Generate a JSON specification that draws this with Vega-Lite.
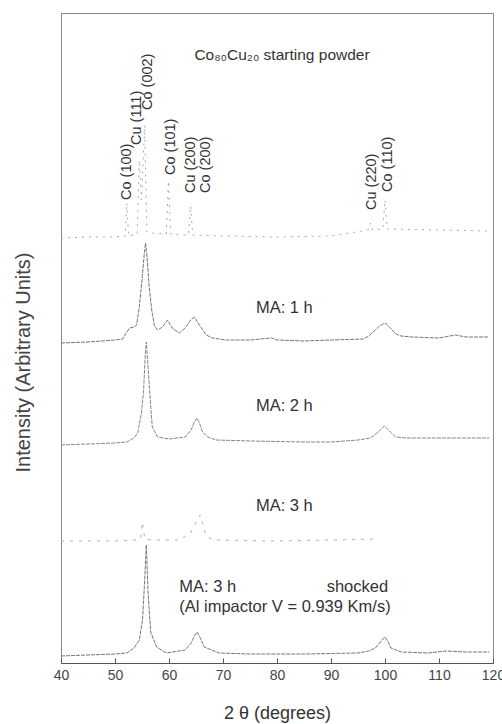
{
  "$schema": "https://vega.github.io/schema/vega-lite/v6.json",
  "width": 432,
  "height": 650,
  "autosize": "none",
  "padding": {"left": 61, "top": 13, "right": 9, "bottom": 61},
  "background": "white",
  "config": {
    "view": {"stroke": "#888", "strokeWidth": 1},
    "font": "Liberation Sans"
  },
  "datasets": {
    "traces": [
      {"s": "start", "x": 40, "y": 425}, {"s": "start", "x": 45, "y": 426}, {"s": "start", "x": 50, "y": 426},
      {"s": "start", "x": 51.9, "y": 427}, {"s": "start", "x": 52.2, "y": 460}, {"s": "start", "x": 52.5, "y": 427},
      {"s": "start", "x": 54.1, "y": 429}, {"s": "start", "x": 54.5, "y": 503}, {"s": "start", "x": 54.9, "y": 463},
      {"s": "start", "x": 55.5, "y": 538}, {"s": "start", "x": 55.9, "y": 431}, {"s": "start", "x": 57, "y": 430},
      {"s": "start", "x": 59.5, "y": 429}, {"s": "start", "x": 59.9, "y": 482}, {"s": "start", "x": 60.3, "y": 429},
      {"s": "start", "x": 63.6, "y": 428}, {"s": "start", "x": 64.0, "y": 457}, {"s": "start", "x": 64.4, "y": 428},
      {"s": "start", "x": 70, "y": 427}, {"s": "start", "x": 80, "y": 426}, {"s": "start", "x": 90, "y": 427},
      {"s": "start", "x": 96.9, "y": 433}, {"s": "start", "x": 97.3, "y": 440}, {"s": "start", "x": 97.7, "y": 433},
      {"s": "start", "x": 99.6, "y": 434}, {"s": "start", "x": 100.0, "y": 463}, {"s": "start", "x": 100.4, "y": 434},
      {"s": "start", "x": 110, "y": 433}, {"s": "start", "x": 119, "y": 432},

      {"s": "1h", "x": 40, "y": 320}, {"s": "1h", "x": 45, "y": 321}, {"s": "1h", "x": 50, "y": 323},
      {"s": "1h", "x": 51.4, "y": 324}, {"s": "1h", "x": 52.2, "y": 331}, {"s": "1h", "x": 52.7, "y": 335},
      {"s": "1h", "x": 53.5, "y": 336}, {"s": "1h", "x": 54.0, "y": 338}, {"s": "1h", "x": 54.5, "y": 356},
      {"s": "1h", "x": 55.0, "y": 383}, {"s": "1h", "x": 55.4, "y": 408}, {"s": "1h", "x": 55.65, "y": 420},
      {"s": "1h", "x": 55.9, "y": 408}, {"s": "1h", "x": 56.3, "y": 378}, {"s": "1h", "x": 56.8, "y": 353},
      {"s": "1h", "x": 57.3, "y": 337}, {"s": "1h", "x": 57.9, "y": 333}, {"s": "1h", "x": 58.8, "y": 336},
      {"s": "1h", "x": 59.7, "y": 343}, {"s": "1h", "x": 60.6, "y": 335}, {"s": "1h", "x": 61.9, "y": 330},
      {"s": "1h", "x": 63.0, "y": 335}, {"s": "1h", "x": 64.0, "y": 343}, {"s": "1h", "x": 64.7, "y": 346},
      {"s": "1h", "x": 65.5, "y": 339}, {"s": "1h", "x": 66.9, "y": 328}, {"s": "1h", "x": 68, "y": 325},
      {"s": "1h", "x": 70.6, "y": 323}, {"s": "1h", "x": 75, "y": 323}, {"s": "1h", "x": 79, "y": 325},
      {"s": "1h", "x": 80, "y": 323}, {"s": "1h", "x": 85, "y": 322}, {"s": "1h", "x": 90, "y": 323},
      {"s": "1h", "x": 96, "y": 324}, {"s": "1h", "x": 97, "y": 327}, {"s": "1h", "x": 98, "y": 332},
      {"s": "1h", "x": 99, "y": 337}, {"s": "1h", "x": 100, "y": 340}, {"s": "1h", "x": 101, "y": 335},
      {"s": "1h", "x": 102, "y": 329}, {"s": "1h", "x": 103, "y": 327}, {"s": "1h", "x": 105, "y": 326},
      {"s": "1h", "x": 110, "y": 325}, {"s": "1h", "x": 113, "y": 328}, {"s": "1h", "x": 115, "y": 326},
      {"s": "1h", "x": 119.3, "y": 326},

      {"s": "2h", "x": 40, "y": 218}, {"s": "2h", "x": 45, "y": 219}, {"s": "2h", "x": 50, "y": 220},
      {"s": "2h", "x": 52.2, "y": 221}, {"s": "2h", "x": 53.5, "y": 225}, {"s": "2h", "x": 54.2, "y": 230},
      {"s": "2h", "x": 54.9, "y": 250}, {"s": "2h", "x": 55.3, "y": 273}, {"s": "2h", "x": 55.6, "y": 308},
      {"s": "2h", "x": 55.8, "y": 321}, {"s": "2h", "x": 56.1, "y": 298}, {"s": "2h", "x": 56.4, "y": 273},
      {"s": "2h", "x": 56.9, "y": 236}, {"s": "2h", "x": 57.9, "y": 226}, {"s": "2h", "x": 60, "y": 224},
      {"s": "2h", "x": 63, "y": 226}, {"s": "2h", "x": 64.1, "y": 233}, {"s": "2h", "x": 64.7, "y": 241},
      {"s": "2h", "x": 65.2, "y": 245}, {"s": "2h", "x": 65.7, "y": 239}, {"s": "2h", "x": 66.2, "y": 231},
      {"s": "2h", "x": 67.2, "y": 226}, {"s": "2h", "x": 68.7, "y": 223}, {"s": "2h", "x": 75, "y": 222},
      {"s": "2h", "x": 85, "y": 221}, {"s": "2h", "x": 90, "y": 221}, {"s": "2h", "x": 95, "y": 223},
      {"s": "2h", "x": 97.3, "y": 225}, {"s": "2h", "x": 98.5, "y": 230}, {"s": "2h", "x": 99.9, "y": 237},
      {"s": "2h", "x": 101, "y": 231}, {"s": "2h", "x": 102, "y": 226}, {"s": "2h", "x": 104, "y": 225},
      {"s": "2h", "x": 110, "y": 225}, {"s": "2h", "x": 119.3, "y": 225},

      {"s": "3h", "x": 40, "y": 122}, {"s": "3h", "x": 50, "y": 122}, {"s": "3h", "x": 54, "y": 123},
      {"s": "3h", "x": 54.7, "y": 124}, {"s": "3h", "x": 55.1, "y": 141}, {"s": "3h", "x": 55.5, "y": 124},
      {"s": "3h", "x": 57, "y": 123}, {"s": "3h", "x": 62, "y": 123}, {"s": "3h", "x": 64, "y": 130},
      {"s": "3h", "x": 65.8, "y": 148}, {"s": "3h", "x": 66.8, "y": 128}, {"s": "3h", "x": 68, "y": 123},
      {"s": "3h", "x": 80, "y": 122}, {"s": "3h", "x": 90, "y": 123}, {"s": "3h", "x": 97.8, "y": 124},

      {"s": "shock", "x": 40, "y": 7}, {"s": "shock", "x": 45, "y": 8}, {"s": "shock", "x": 50, "y": 9},
      {"s": "shock", "x": 52.2, "y": 10}, {"s": "shock", "x": 53.5, "y": 15}, {"s": "shock", "x": 54.5, "y": 23},
      {"s": "shock", "x": 55.1, "y": 43}, {"s": "shock", "x": 55.5, "y": 83}, {"s": "shock", "x": 55.8, "y": 118},
      {"s": "shock", "x": 56.1, "y": 73}, {"s": "shock", "x": 56.6, "y": 31}, {"s": "shock", "x": 57.7, "y": 16},
      {"s": "shock", "x": 59.5, "y": 10}, {"s": "shock", "x": 63, "y": 13}, {"s": "shock", "x": 64.1, "y": 20},
      {"s": "shock", "x": 64.7, "y": 27}, {"s": "shock", "x": 65.2, "y": 31}, {"s": "shock", "x": 65.8, "y": 25},
      {"s": "shock", "x": 66.5, "y": 16}, {"s": "shock", "x": 69.3, "y": 10}, {"s": "shock", "x": 75, "y": 9},
      {"s": "shock", "x": 85, "y": 9}, {"s": "shock", "x": 95, "y": 10}, {"s": "shock", "x": 97, "y": 12},
      {"s": "shock", "x": 98.2, "y": 15}, {"s": "shock", "x": 99.3, "y": 22}, {"s": "shock", "x": 100, "y": 26},
      {"s": "shock", "x": 100.6, "y": 21}, {"s": "shock", "x": 101.1, "y": 15}, {"s": "shock", "x": 103, "y": 11},
      {"s": "shock", "x": 108, "y": 10}, {"s": "shock", "x": 111.3, "y": 12}, {"s": "shock", "x": 115, "y": 11},
      {"s": "shock", "x": 119.3, "y": 11}
    ],
    "peaks": [
      {"x": 52.3, "y": 463, "label": "Co (100)"},
      {"x": 54.0, "y": 518, "label": "Cu (111)"},
      {"x": 56.2, "y": 553, "label": "Co (002)"},
      {"x": 60.4, "y": 488, "label": "Co (101)"},
      {"x": 64.1, "y": 470, "label": "Cu (200)"},
      {"x": 66.9, "y": 470, "label": "Co (200)"},
      {"x": 97.5, "y": 453, "label": "Cu (220)"},
      {"x": 100.6, "y": 471, "label": "Co (110)"}
    ],
    "title": [
      {"x": 64.7, "y": 608, "label": "Co₈₀Cu₂₀ starting powder"}
    ],
    "notes": [
      {"x": 76.1, "y": 355, "label": "MA: 1 h"},
      {"x": 76.1, "y": 257, "label": "MA: 2 h"},
      {"x": 76.1, "y": 157, "label": "MA: 3 h"},
      {"x": 61.9, "y": 76, "label": "MA: 3 h"},
      {"x": 89.2, "y": 76, "label": "shocked"},
      {"x": 61.9, "y": 56, "label": "(Al impactor V = 0.939 Km/s)"}
    ]
  },
  "layer": [
    {
      "data": {"name": "traces"},
      "mark": {"type": "line", "strokeWidth": 1, "clip": true},
      "encoding": {
        "x": {
          "field": "x", "type": "quantitative",
          "scale": {"domain": [40, 120], "nice": false, "zero": false},
          "axis": {
            "values": [40, 50, 60, 70, 80, 90, 100, 110, 120],
            "title": "2 θ  (degrees)",
            "titleFontSize": 18, "titleFontWeight": "normal", "titleColor": "#333",
            "titlePadding": 22,
            "labelFontSize": 14, "labelColor": "#444", "labelPadding": 10,
            "tickSize": -5, "tickColor": "#555", "domainColor": "#555",
            "grid": false, "labelFlush": false
          }
        },
        "y": {
          "field": "y", "type": "quantitative",
          "scale": {"domain": [0, 650], "nice": false, "zero": false},
          "axis": {
            "labels": false, "ticks": false, "domain": false, "grid": false,
            "title": "Intensity (Arbitrary Units)",
            "titleFontSize": 20, "titleFontWeight": "normal", "titleColor": "#444",
            "titleX": -38, "titleY": 349, "titleAngle": -90,
            "titleAlign": "center", "titleBaseline": "middle"
          }
        },
        "color": {
          "field": "s", "type": "nominal", "legend": null,
          "scale": {"domain": ["start", "1h", "2h", "3h", "shock"], "range": ["#aaaaaa", "#777777", "#888888", "#b0b0b0", "#777777"]}
        },
        "strokeDash": {
          "field": "s", "type": "nominal", "legend": null,
          "scale": {"domain": ["start", "1h", "2h", "3h", "shock"], "range": [[2, 5], [4, 1], [4, 1], [3, 6], [4, 1]]}
        }
      }
    },
    {
      "data": {"name": "peaks"},
      "mark": {"type": "text", "angle": 270, "align": "left", "baseline": "middle", "fontSize": 14.5, "color": "#333"},
      "encoding": {
        "x": {"field": "x", "type": "quantitative"},
        "y": {"field": "y", "type": "quantitative"},
        "text": {"field": "label"}
      }
    },
    {
      "data": {"name": "title"},
      "mark": {"type": "text", "align": "left", "baseline": "middle", "fontSize": 15.5, "color": "#333"},
      "encoding": {
        "x": {"field": "x", "type": "quantitative"},
        "y": {"field": "y", "type": "quantitative"},
        "text": {"field": "label"}
      }
    },
    {
      "data": {"name": "notes"},
      "mark": {"type": "text", "align": "left", "baseline": "middle", "fontSize": 16.5, "color": "#333"},
      "encoding": {
        "x": {"field": "x", "type": "quantitative"},
        "y": {"field": "y", "type": "quantitative"},
        "text": {"field": "label"}
      }
    }
  ]
}
